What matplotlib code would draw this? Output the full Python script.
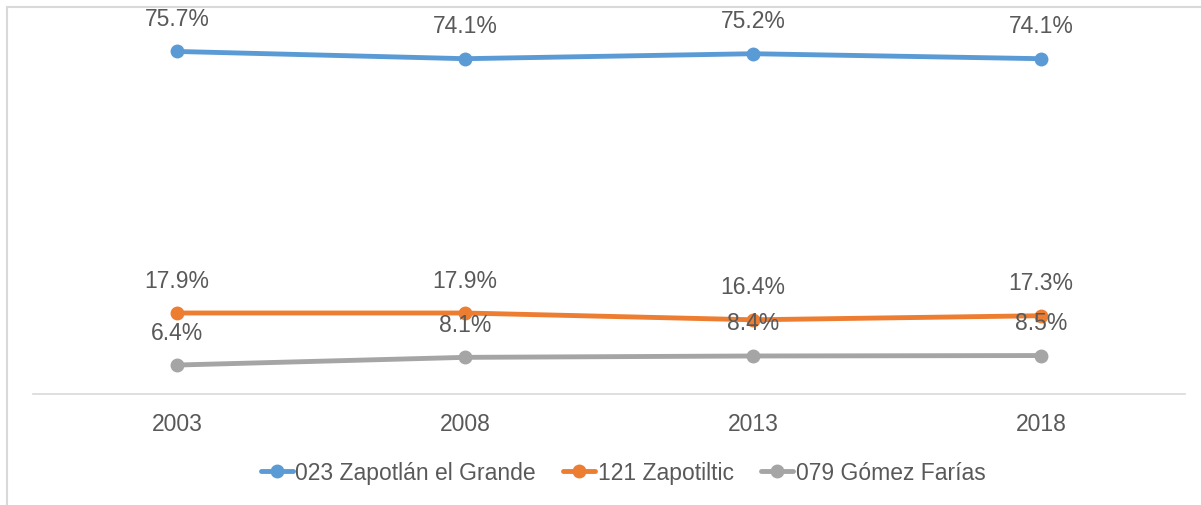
import matplotlib.pyplot as plt
from matplotlib.lines import Line2D

plt.rcParams['font.family'] = ['Liberation Sans', 'DejaVu Sans']

anios = ['2003', '2008', '2013', '2018']
zapotlan = [75.7, 74.1, 75.2, 74.1]
zapotiltic = [17.9, 17.9, 16.4, 17.3]
gomez_farias = [6.4, 8.1, 8.4, 8.5]

series = [
    ('023 Zapotlán el Grande', zapotlan, '#5B9BD5'),
    ('121 Zapotiltic', zapotiltic, '#ED7D31'),
    ('079 Gómez Farías', gomez_farias, '#A5A5A5'),
]

W, H = 1201, 506
fig = plt.figure(figsize=(W / 100, H / 100), dpi=100)
ax = fig.add_axes([33 / W, 1 - 395 / H, (1185 - 33) / W, (395 - 33) / H])

xs = [i + 0.5 for i in range(len(anios))]
texto = '#595959'
fs = 16.5

for nombre, valores, color in series:
    ax.plot(xs, valores, color=color, lw=3.5, marker='o', ms=9, label=nombre,
            solid_capstyle='round')
    for x, v in zip(xs, valores):
        ax.annotate('{:.1f}%'.format(v), (x, v), xytext=(0, 33),
                    textcoords='offset pixels', ha='center', va='center',
                    fontsize=fs, color=texto)

ax.set_xlim(0, len(anios))
ax.set_ylim(0, 80)
ax.set_xticks(xs)
ax.set_xticklabels(anios, fontsize=fs, color=texto)
ax.tick_params(axis='x', length=0, pad=13)
ax.set_yticks([])
for lado in ['top', 'right', 'left']:
    ax.spines[lado].set_visible(False)
ax.spines['bottom'].set_color('#D9D9D9')
ax.spines['bottom'].set_linewidth(1.2)

# borde del area del grafico
fig.add_artist(Line2D([7 / W, 7 / W], [0, 1 - 8 / H], color='#D9D9D9', lw=1.5))
fig.add_artist(Line2D([7 / W, 1], [1 - 8 / H, 1 - 8 / H], color='#D9D9D9', lw=1.5))

handles, labels = ax.get_legend_handles_labels()
leg = fig.legend(handles, labels, loc='center', bbox_to_anchor=(623 / W, 1 - 474 / H),
                 ncol=3, frameon=False, fontsize=fs, handlelength=1.4,
                 handletextpad=0.1, columnspacing=1.2)
for t in leg.get_texts():
    t.set_color(texto)

fig.savefig('out.png', dpi=100)
